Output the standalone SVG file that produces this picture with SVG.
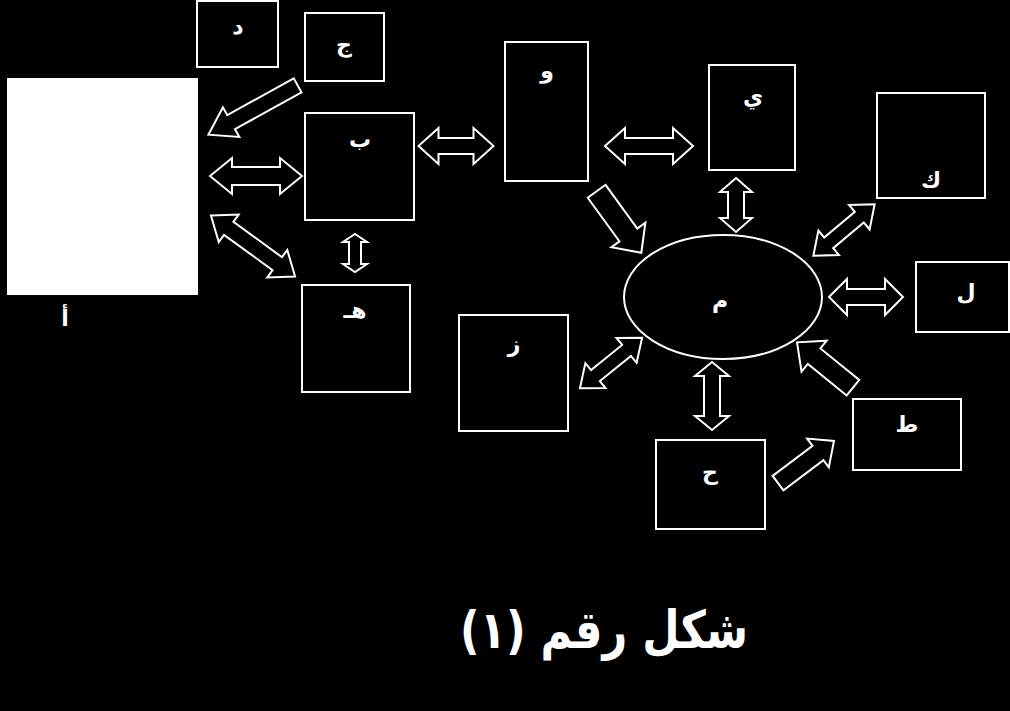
<svg xmlns="http://www.w3.org/2000/svg" width="1010" height="711" viewBox="0 0 1010 711">
<style>
.b{fill:#000;stroke:#fff;stroke-width:2}
.a{fill:#000;stroke:#fff;stroke-width:2;stroke-linejoin:miter}
.t{fill:#fff;font-family:"DejaVu Sans","Noto Sans",sans-serif;font-weight:bold;font-size:22px;text-anchor:middle}
</style>
<rect width="1010" height="711" fill="#000"/>
<g id="n-a"><rect x="7" y="78" width="191" height="217" fill="#fff"/><text class="t" x="65" y="326">أ</text></g>
<g id="n-d"><rect class="b" x="197" y="1" width="81" height="66"/><text class="t" x="238" y="34">د</text></g>
<g id="n-j"><rect class="b" x="305" y="13" width="79" height="68"/><text class="t" x="344" y="52">ج</text></g>
<g id="n-b"><rect class="b" x="305" y="113" width="109" height="107"/><text class="t" x="360" y="147">ب</text></g>
<g id="n-h"><rect class="b" x="302" y="285" width="108" height="107"/><text class="t" x="355" y="318">هـ</text></g>
<g id="n-w"><rect class="b" x="505" y="42" width="83" height="139"/><text class="t" x="547" y="78">و</text></g>
<g id="n-y"><rect class="b" x="709" y="65" width="86" height="105"/><text class="t" x="753" y="104">ي</text></g>
<g id="n-k"><rect class="b" x="877" y="93" width="108" height="105"/><text class="t" x="931" y="188">ك</text></g>
<g id="n-l"><rect class="b" x="916" y="262" width="93" height="70"/><text class="t" x="966" y="300">ل</text></g>
<g id="n-t"><rect class="b" x="853" y="399" width="108" height="71"/><text class="t" x="907" y="432">ط</text></g>
<g id="n-hh"><rect class="b" x="656" y="440" width="109" height="89"/><text class="t" x="710" y="480">ح</text></g>
<g id="n-z"><rect class="b" x="459" y="315" width="109" height="116"/><text class="t" x="514" y="352">ز</text></g>
<g id="n-m"><ellipse class="b" cx="723" cy="297" rx="99" ry="62"/><text class="t" x="720" y="308">م</text></g>
<g id="connectors">
<polygon class="a" transform="translate(253,110) rotate(151)" points="-51,-8 25,-8 25,-17 51,0 25,17 25,8 -51,8"/>
<polygon class="a" transform="translate(256,176)" points="-46,0 -24,-18 -24,-9 24,-9 24,-18 46,0 24,18 24,9 -24,9 -24,18"/>
<polygon class="a" transform="translate(253,246) rotate(36)" points="-52,0 -30,-17 -30,-8 30,-8 30,-17 52,0 30,17 30,8 -30,8 -30,17"/>
<polygon class="a" transform="translate(355,253) rotate(90)" points="-19,0 -11,-12 -11,-6 11,-6 11,-12 19,0 11,12 11,6 -11,6 -11,12"/>
<polygon class="a" transform="translate(456,146)" points="-37.5,0 -17.5,-18 -17.5,-8 17.5,-8 17.5,-18 37.5,0 17.5,18 17.5,8 -17.5,8 -17.5,18"/>
<polygon class="a" transform="translate(649,146)" points="-44,0 -24,-18 -24,-8 24,-8 24,-18 44,0 24,18 24,8 -24,8 -24,18"/>
<polygon class="a" transform="translate(619,222) rotate(54)" points="-38,-11 16,-11 16,-21 38,0 16,21 16,11 -38,11"/>
<polygon class="a" transform="translate(736,205) rotate(90)" points="-27,0 -13,-16 -13,-8 13,-8 13,-16 27,0 13,16 13,8 -13,8 -13,16"/>
<polygon class="a" transform="translate(844,230) rotate(-40)" points="-40,0 -20,-16 -20,-7 20,-7 20,-16 40,0 20,16 20,7 -20,7 -20,16"/>
<polygon class="a" transform="translate(866,297)" points="-37,0 -19,-18 -19,-8 19,-8 19,-18 37,0 19,18 19,8 -19,8 -19,18"/>
<polygon class="a" transform="translate(825,365) rotate(219)" points="-36,-10 14,-10 14,-20 36,0 14,20 14,10 -36,10"/>
<polygon class="a" transform="translate(712,396) rotate(90)" points="-34,0 -20,-17 -20,-8 20,-8 20,-17 34,0 20,17 20,8 -20,8 -20,17"/>
<polygon class="a" transform="translate(611,363) rotate(-39)" points="-40,0 -20,-16 -20,-7 20,-7 20,-16 40,0 20,16 20,7 -20,7 -20,16"/>
<polygon class="a" transform="translate(806,462) rotate(-37)" points="-35,-9 15,-9 15,-18 35,0 15,18 15,9 -35,9"/>
</g>
<text x="604" y="648" fill="#fff" font-family="'DejaVu Sans','Noto Sans',sans-serif" font-weight="bold" font-size="52" text-anchor="middle" textLength="288" lengthAdjust="spacingAndGlyphs">شكل رقم (١)</text>
</svg>
